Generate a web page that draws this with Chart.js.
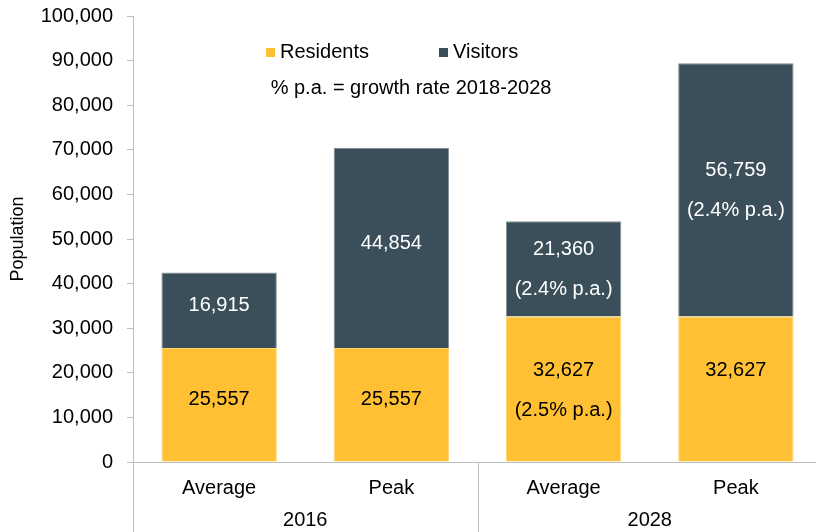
<!DOCTYPE html>
<html>
<head>
<meta charset="utf-8">
<script src="https://cdn.jsdelivr.net/npm/chart.js@4.4.1/dist/chart.umd.min.js"></script>
<style>
  html, body { margin: 0; padding: 0; background: #ffffff; overflow: hidden; }
  /* the plot runs a few pixels past the visible right edge */
  #wrap { width: 816px; height: 532px; overflow: hidden; }
</style>
</head>
<body>
<div id="wrap"><canvas id="c" width="822" height="532"></canvas></div>
<script>
// Population by period type, with the year each pair of bars belongs to
const categories = ['Average', 'Peak', 'Average', 'Peak'];
const groups = ['2016', '2016', '2028', '2028'];
const residents = [25557, 25557, 32627, 32627];
const visitors = [16915, 44854, 21360, 56759];
// Second label line under each value ('' keeps an empty line, null means none)
const residentsGrowth = [null, null, '(2.5% p.a.)', ''];
const visitorsGrowth = [null, null, '(2.4% p.a.)', '(2.4% p.a.)'];
const yTicks = [0, 10000, 20000, 30000, 40000, 50000, 60000, 70000, 80000, 90000, 100000];
const note = '% p.a. = growth rate 2018-2028';

const FONT = '"Liberation Sans", Arial, sans-serif';
const SIZE = 20;
const YELLOW = '#FFC133';
const SLATE = '#3A4F5A';
const AXIS = '#BFBFBF';
const fmt = v => v.toLocaleString('en-US');

// Value labels inside each stacked segment (value + optional growth rate)
const segmentLabels = {
  id: 'segmentLabels',
  afterDatasetsDraw(chart) {
    const ctx = chart.ctx;
    const extras = [residentsGrowth, visitorsGrowth];
    const colors = ['#000000', '#ffffff'];
    ctx.save();
    ctx.font = SIZE + 'px ' + FONT;
    ctx.textAlign = 'center';
    ctx.textBaseline = 'middle';
    chart.data.datasets.forEach((ds, di) => {
      const meta = chart.getDatasetMeta(di);
      meta.data.forEach((bar, i) => {
        const lines = [fmt(ds.data[i])];
        if (extras[di][i] !== null) lines.push(extras[di][i]);
        const gap = 40;
        const mid = (bar.y + bar.base) / 2 + (lines.length > 1 ? 1 : -5);
        const start = mid - (lines.length - 1) * gap / 2;
        ctx.fillStyle = colors[di];
        lines.forEach((t, k) => ctx.fillText(t, bar.x, start + k * gap));
      });
    });
    ctx.restore();
  }
};

// Legend inside the plot plus the growth-rate note
const innerLegend = {
  id: 'innerLegend',
  afterDraw(chart) {
    const ctx = chart.ctx;
    ctx.save();
    ctx.font = SIZE + 'px ' + FONT;
    ctx.textBaseline = 'middle';
    ctx.textAlign = 'left';
    const items = [
      { x: 266, label: chart.data.datasets[0].label, color: YELLOW },
      { x: 439, label: chart.data.datasets[1].label, color: SLATE }
    ];
    items.forEach(it => {
      ctx.fillStyle = it.color;
      ctx.fillRect(it.x, 48, 9, 9);
      ctx.fillStyle = '#000000';
      ctx.fillText(it.label, it.x + 14, 52);
    });
    ctx.textAlign = 'center';
    ctx.fillText(note, 411, 88);
    ctx.restore();
  }
};

// Year group labels and separators under the category axis
const groupAxis = {
  id: 'groupAxis',
  afterDraw(chart) {
    const ctx = chart.ctx;
    const xs = chart.scales.x;
    const area = chart.chartArea;
    const bottom = chart.height;
    const px = categories.map((_, i) => xs.getPixelForTick(i));
    ctx.save();
    ctx.strokeStyle = AXIS;
    ctx.lineWidth = 1;
    const bounds = [area.left];
    for (let i = 1; i < groups.length; i++) {
      if (groups[i] !== groups[i - 1]) bounds.push((px[i - 1] + px[i]) / 2);
    }
    bounds.forEach(b => {
      ctx.beginPath();
      ctx.moveTo(Math.round(b) + 0.5, area.bottom);
      ctx.lineTo(Math.round(b) + 0.5, bottom);
      ctx.stroke();
    });
    ctx.font = SIZE + 'px ' + FONT;
    ctx.fillStyle = '#000000';
    ctx.textAlign = 'center';
    ctx.textBaseline = 'middle';
    const uniq = [...new Set(groups)];
    uniq.forEach(g => {
      const idx = groups.map((v, i) => v === g ? i : -1).filter(i => i >= 0);
      const cx = idx.reduce((s, i) => s + px[i], 0) / idx.length;
      ctx.fillText(g, cx, 520);
    });
    ctx.restore();
  }
};

new Chart(document.getElementById('c'), {
  type: 'bar',
  data: {
    labels: categories,
    datasets: [
      { label: 'Residents', data: residents, backgroundColor: YELLOW, borderColor: '#FFD46E', borderWidth: 1, borderSkipped: 'bottom' },
      { label: 'Visitors', data: visitors, backgroundColor: SLATE, borderColor: '#7F8F99', borderWidth: 1, borderSkipped: 'bottom' }
    ]
  },
  plugins: [segmentLabels, innerLegend, groupAxis],
  options: {
    responsive: false,
    animation: false,
    devicePixelRatio: 1,
    layout: { padding: { top: 16, right: 0, left: 0, bottom: 0 } },
    datasets: { bar: { barPercentage: 0.67, categoryPercentage: 1.0 } },
    plugins: { legend: { display: false }, tooltip: { enabled: false } },
    scales: {
      x: {
        stacked: true,
        grid: { display: false, drawTicks: false },
        border: { display: true, color: AXIS },
        ticks: { color: '#000000', font: { family: FONT, size: SIZE }, padding: 14, maxRotation: 0 },
        afterFit(s) { s.height = 70; s.paddingLeft = 0; s.paddingRight = 0; }
      },
      y: {
        stacked: true,
        min: 0,
        max: 100000,
        afterBuildTicks(s) { s.ticks = yTicks.map(v => ({ value: v })); },
        grid: { drawOnChartArea: false, tickLength: 6, color: AXIS },
        border: { display: true, color: AXIS },
        ticks: { color: '#000000', font: { family: FONT, size: SIZE }, padding: 14, callback: v => fmt(v) },
        title: { display: true, text: 'Population', color: '#000000', font: { family: FONT, size: 18 }, padding: { top: 7, bottom: 0 } },
        afterFit(s) { s.width = 133; s.paddingTop = 0; s.paddingBottom = 0; }
      }
    }
  }
});
</script>
</body>
</html>
